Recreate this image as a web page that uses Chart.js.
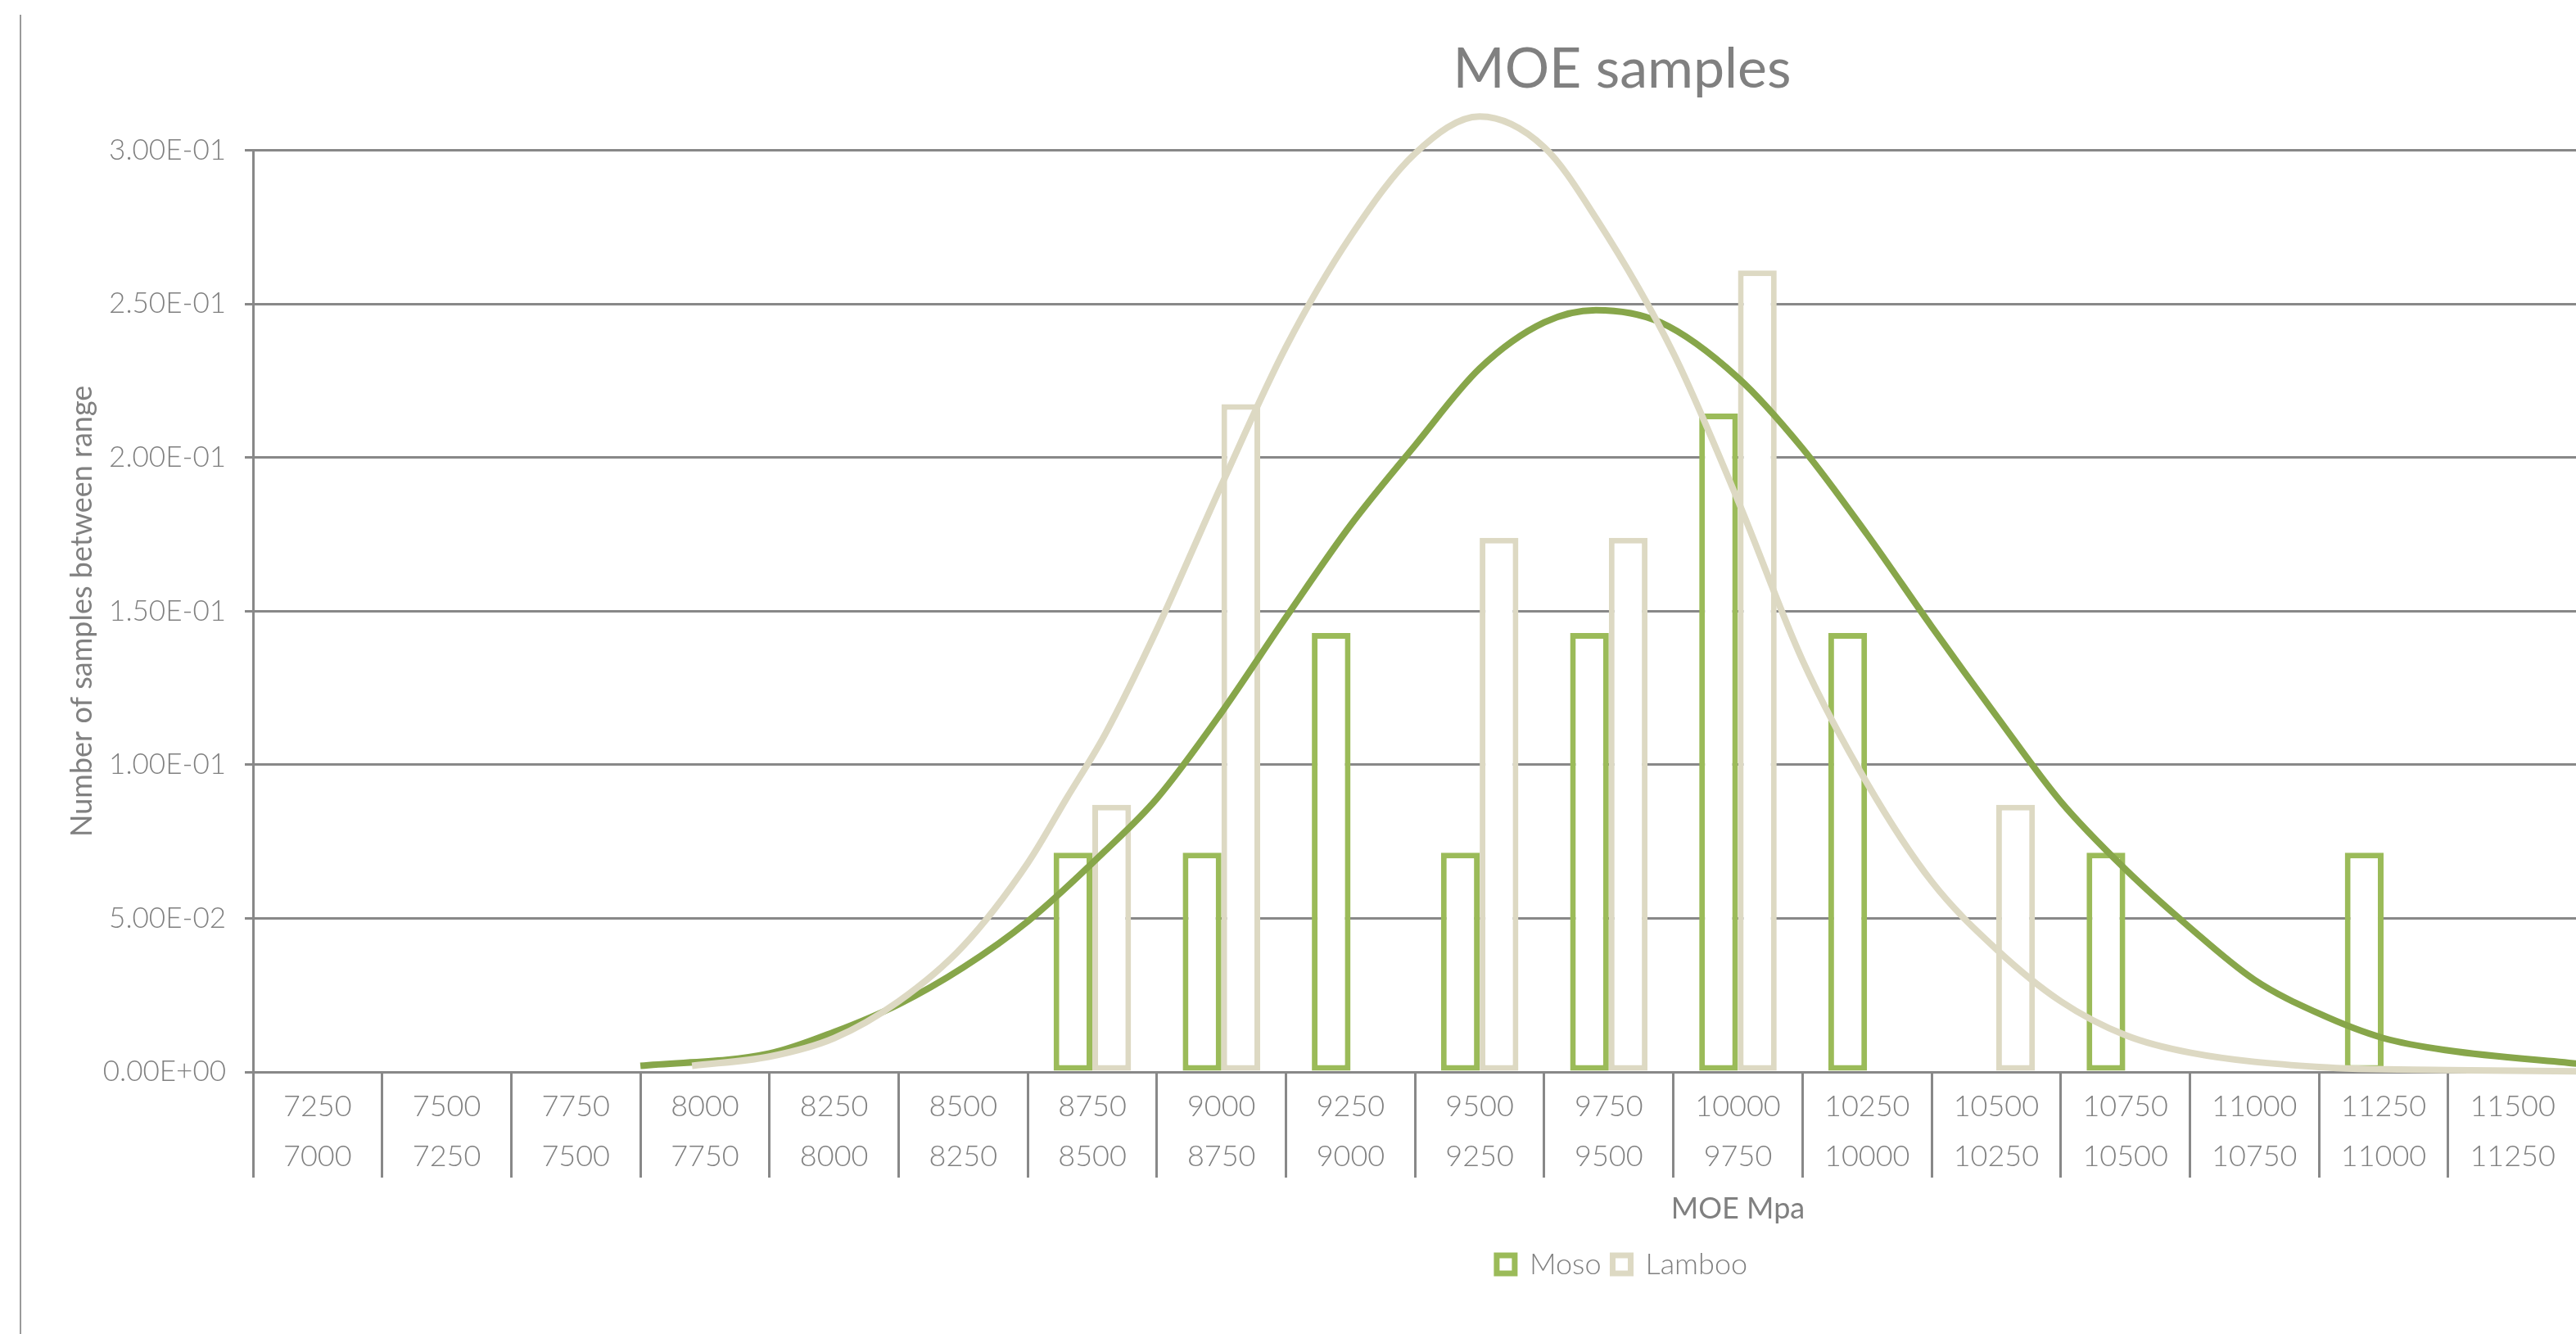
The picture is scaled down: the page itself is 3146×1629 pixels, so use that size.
<!DOCTYPE html>
<html>
<head>
<meta charset="utf-8">
<title>MOE samples</title>
<script src="https://cdn.jsdelivr.net/npm/chart.js@4.4.1/dist/chart.umd.min.js"></script>
<style>
  html, body { margin: 0; padding: 0; background: #fff; width: 3146px; height: 1629px; overflow: hidden; }
  #frame { position: absolute; left: 24px; top: 18px; width: 3932px; height: 1611px; border-left: 2px solid #9a9a9a; }
  .layer { position: absolute; left: 0; top: 0; width: 3932px; height: 1611px; }
  #curveLayer { pointer-events: none; }
</style>
</head>
<body>
<div id="frame">
  <div class="layer"><canvas id="moeChart"></canvas></div>
  <div class="layer" id="curveLayer"><canvas id="curveChart"></canvas></div>
</div>
<script>
// bin upper / lower bounds (MOE, MPa)
const upperBounds = ['7250','7500','7750','8000','8250','8500','8750','9000','9250','9500','9750','10000',
  '10250','10500','10750','11000','11250','11500','11750','12000','12250','12500','12750'];
const lowerBounds = ['7000','7250','7500','7750','8000','8250','8500','8750','9000','9250','9500','9750',
  '10000','10250','10500','10750','11000','11250','11500','11750','12000','12250','12500'];

// share of samples in each bin
const mosoShare = [0, 0, 0, 0, 0, 0, 0.0714, 0.0714, 0.1429, 0.0714, 0.1429, 0.2143,
  0.1429, 0, 0.0714, 0, 0.0714, 0, 0, 0, 0, 0, 0];
const lambooShare = [0, 0, 0, 0, 0, 0, 0.0870, 0.2174, 0, 0.1739, 0.1739, 0.2609,
  0, 0.0870, 0, 0, 0, 0, 0, 0, 0, 0, 0];

// normal curves
const mosoCurveMoe = [7750, 8000, 8125, 8250, 8375, 8500, 8650, 8750, 8875, 9000, 9125, 9250, 9375, 9500,
  9600, 9725, 9875, 10000, 10125, 10250, 10375, 10500, 10625, 10750, 10875, 11000, 11125, 11250, 11500];
const mosoCurveVal = [0.002, 0.006, 0.013, 0.022, 0.034, 0.049, 0.072, 0.089, 0.117, 0.148, 0.178, 0.204, 0.229, 0.244,
  0.248, 0.244, 0.226, 0.203, 0.175, 0.145, 0.116, 0.088, 0.066, 0.047, 0.030, 0.019, 0.011, 0.007, 0.0027];
const lambooCurveMoe = [7850, 8000, 8125, 8250, 8375, 8500, 8575, 8650, 8750, 8875, 9000, 9125, 9250, 9375,
  9500, 9600, 9750, 9875, 10000, 10125, 10250, 10375, 10500, 10625, 10750, 11000, 11250, 11500];
const lambooCurveVal = [0.002, 0.005, 0.011, 0.023, 0.041, 0.068, 0.089, 0.110, 0.144, 0.191, 0.236, 0.272, 0.299, 0.311,
  0.301, 0.278, 0.234, 0.186, 0.134, 0.094, 0.062, 0.040, 0.023, 0.012, 0.0063, 0.0016, 0.0006, 0.0002];

const yTickStep = 0.05;

const GREEN = '#9BBB59';
const GREEN_LINE = '#87A64A';
const TAN = '#DDD9C3';
const GREY = '#888888';
const TEXT = '#808080';
const FONT = 'Lato, "Open Sans", sans-serif';

function sci(v) {
  if (Math.abs(v) < 1e-12) return '0.00E+00';
  const parts = v.toExponential(2).split('e');
  const e = parseInt(parts[1], 10);
  return parts[0] + 'E' + (e < 0 ? '-' : '+') + String(Math.abs(e)).padStart(2, '0');
}

const labels = upperBounds.map((u, i) => [u, lowerBounds[i]]);
const toPoints = (xs, ys) => xs.map((x, i) => ({ x: x, y: ys[i] }));

// histogram bars, axes, title and legend
const barChart = new Chart(document.getElementById('moeChart'), {
  type: 'bar',
  data: {
    labels: labels,
    datasets: [
      { label: 'Moso', data: mosoShare, backgroundColor: '#ffffff', borderColor: GREEN,
        borderWidth: 7, borderSkipped: false },
      { label: 'Lamboo', data: lambooShare, backgroundColor: '#ffffff', borderColor: TAN,
        borderWidth: 7, borderSkipped: false }
    ]
  },
  options: {
    responsive: true,
    maintainAspectRatio: false,
    animation: false,
    datasets: { bar: { categoryPercentage: 0.6, barPercentage: 1.0 } },
    layout: { padding: { left: 0, right: 22, top: 0, bottom: 57 } },
    plugins: {
      title: {
        display: true, text: 'MOE samples', color: TEXT,
        font: { family: FONT, size: 68, weight: 'normal' },
        padding: { top: 26, bottom: 58 }
      },
      legend: {
        position: 'bottom',
        labels: {
          boxWidth: 22, boxHeight: 22, padding: 14, color: TEXT,
          font: { family: FONT, size: 36, weight: 300 }
        }
      },
      tooltip: { enabled: false }
    },
    scales: {
      x: {
        type: 'category',
        offset: true,
        afterFit: (scale) => { scale.height = 203; },
        grid: { display: true, drawOnChartArea: false, drawTicks: true, tickLength: 129, offset: true,
          color: GREY, lineWidth: 3 },
        border: { display: true, color: GREY, width: 3 },
        ticks: { color: TEXT, font: { family: FONT, size: 36, weight: 300, lineHeight: 1.71 }, padding: -117.5,
          maxRotation: 0, autoSkip: false },
        title: { display: true, text: 'MOE Mpa', color: TEXT, font: { family: FONT, size: 36 },
          padding: { top: 2, bottom: 14 } }
      },
      y: {
        min: 0, max: 0.3,
        afterFit: (scale) => { scale.width = 283; },
        grid: { color: GREY, lineWidth: 3, tickLength: 10, drawTicks: true },
        border: { display: true, color: GREY, width: 3 },
        ticks: { stepSize: yTickStep, color: TEXT, font: { family: FONT, size: 35, weight: 300 }, padding: 23,
          callback: (v) => sci(v) },
        title: { display: true, text: 'Number of samples between range', color: TEXT,
          font: { family: FONT, size: 36 }, padding: { top: 53, bottom: 0 } }
      }
    }
  }
});

// fitted curves, drawn on a transparent layer whose plot area matches the bar chart's
const area = barChart.chartArea;
new Chart(document.getElementById('curveChart'), {
  type: 'line',
  data: {
    datasets: [
      { label: 'Lamboo curve', data: toPoints(lambooCurveMoe, lambooCurveVal),
        borderColor: TAN, borderWidth: 8, pointRadius: 0, fill: false,
        cubicInterpolationMode: 'monotone', clip: false },
      { label: 'Moso curve', data: toPoints(mosoCurveMoe, mosoCurveVal),
        borderColor: GREEN_LINE, borderWidth: 8, pointRadius: 0, fill: false,
        cubicInterpolationMode: 'monotone', clip: false }
    ]
  },
  options: {
    responsive: true,
    maintainAspectRatio: false,
    animation: false,
    layout: { padding: { left: area.left, top: area.top,
      right: barChart.width - area.right, bottom: barChart.height - area.bottom } },
    plugins: { legend: { display: false }, title: { display: false }, tooltip: { enabled: false } },
    scales: {
      x: { type: 'linear', display: false, min: 7000, max: 12750 },
      y: { type: 'linear', display: false, min: 0, max: 0.3 }
    }
  }
});
</script>
</body>
</html>
